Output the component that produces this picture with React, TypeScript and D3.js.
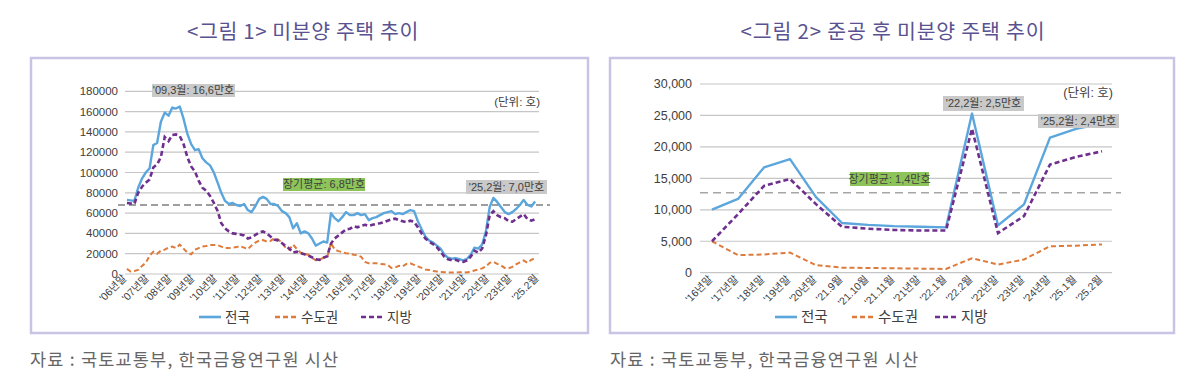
import React from "react";
import * as d3 from "d3";

// ---------- Chart 1 data (bimonthly, Dec 2006 .. Feb 2025) ----------
const nation1 = [
  73000, 72500, 72000, 85000, 94000, 100000, 104000, 127000, 129000, 150000,
  159000, 156000, 164000, 163000, 165000, 153000, 138000, 128000, 122000, 123000,
  114000, 110000, 107000, 100000, 90000, 80000, 72000, 69000, 70000, 68000,
  67000, 69000, 63000, 61000, 67000, 74000, 76000, 74000, 69000, 69000,
  67000, 62000, 60000, 56000, 45000, 50000, 40000, 42000, 40000, 35000,
  28000, 30000, 32000, 31000, 60000, 55000, 52000, 56000, 61000, 58000,
  58000, 60000, 58000, 59000, 53000, 55000, 56000, 58000, 60000, 61000,
  62000, 59000, 60000, 59000, 61000, 63000, 62000, 52000, 44000, 37000,
  33000, 31000, 28000, 25000, 19000, 16000, 15000, 15500, 14500, 13500,
  15000, 19000, 26000, 25000, 29000, 42000, 66000, 75000, 71000, 66000,
  61000, 59000, 61000, 64000, 68000, 73000, 68000, 66500, 71500, 70000,
];
const metro1 = [
  5000, 2500, 3000, 4000, 8000, 11000, 18000, 22000, 20000, 23000,
  24000, 26000, 27000, 25500, 29000, 25000, 21000, 19500, 24000, 25500,
  27000, 27500, 28500, 28500, 28500, 27000, 25500, 25500, 26000, 26500,
  27500, 26000, 24500, 28000, 31000, 33000, 33500, 32000, 32500, 35500,
  34000, 31000, 26000, 24000, 29000, 24500, 21000, 19500, 19000, 16000,
  13500, 14000, 16000, 16500, 30500, 24000, 22500, 21500, 20500, 20000,
  19000, 18500, 17000, 12000, 10500, 10500, 10500, 10000, 9500, 9000,
  6000, 6500, 8000, 7500, 10000, 10500, 9000, 7500, 6000, 4500,
  4000, 3000, 2500, 2000, 1800, 1500, 1500, 1500, 1800, 1800,
  1500, 2500, 3500, 4500, 5500, 7500, 11000, 12000, 10000, 8500,
  6000, 5700, 7000, 9500, 11500, 13300, 11000, 14000, 15500, 18500,
];
const local1 = [
  70000, 69500, 69000, 80000, 86000, 90000, 93000, 105000, 108000, 115000,
  135000, 131000, 137000, 137500, 136000, 128000, 115000, 106000, 101000, 92000,
  85000, 82000, 77000, 70000, 62000, 50000, 45000, 42000, 40000, 39500,
  39000, 38000, 35000, 36000, 38500, 41000, 42000, 40000, 37000, 34000,
  33000, 30500, 27500, 25000, 21000, 22000, 20500, 19500, 18000, 16500,
  14500, 14000, 16000, 17500, 30000, 35000, 38000, 41000, 44000, 44500,
  47000, 46000, 47500, 48500, 47500, 48500, 49500, 50000, 51000, 52500,
  53800, 54500, 53000, 52000, 51000, 52500, 51500, 46000, 40000, 35000,
  32000, 29500, 26500, 22000, 17000, 14500, 13500, 14000, 12500, 12000,
  13500, 17000, 23000, 21000, 25000, 38000, 58000, 62000, 58000, 56000,
  55000, 52000, 51500, 54000, 56500, 59000, 54000, 52500, 54000, 53000,
];
const yTicks1 = [0, 20000, 40000, 60000, 80000, 100000, 120000, 140000, 160000, 180000];
const xTickYears1 = [2006, 2007, 2008, 2009, 2010, 2011, 2012, 2013, 2014, 2015, 2016, 2017, 2018, 2019, 2020, 2021, 2022, 2023];
const lastTickLabel1 = "'25.2월";
const avg1 = 68000;

// ---------- Chart 2 data ----------
const categories2 = [
  "'16년말", "'17년말", "'18년말", "'19년말", "'20년말", "'21.9월", "'21.10월", "'21.11월",
  "'21년말", "'22.1월", "'22.2월", "'22년말", "'23년말", "'24년말", "'25.1월", "'25.2월",
];
const nation2 = [10011, 11720, 16738, 18065, 12006, 7900, 7600, 7400, 7300, 7200, 25300, 7518, 10857, 21480, 22872, 23722];
const metro2 = [5000, 2800, 2900, 3200, 1200, 800, 750, 700, 650, 600, 2300, 1300, 2100, 4200, 4300, 4500];
const local2 = [5000, 9300, 13800, 14900, 10900, 7300, 7000, 6800, 6700, 6700, 22900, 6300, 9000, 17200, 18400, 19300];
const yTicks2 = [0, 5000, 10000, 15000, 20000, 25000, 30000];
const avg2 = 12700;

const seriesNames = ["전국", "수도권", "지방"];
const C_BLUE = "#5ba6dc";
const C_ORANGE = "#de7a3a";
const C_PURPLE = "#6e2f8e";
const GRID = "#c6c6c6";
const NUM_FONT = "'Liberation Sans Narrow', 'Liberation Sans', 'Noto Sans CJK KR', sans-serif";
const KR_FONT = "'Noto Sans CJK KR', sans-serif";

function Box({ x, y, w, h, fill, text, size = 11 }: any) {
  return (
    <g>
      <rect x={x} y={y} width={w} height={h} fill={fill} />
      <text x={x + w / 2} y={y + h / 2} dy="0.36em" textAnchor="middle" fontSize={size} fill="#404040" fontFamily={NUM_FONT}>
        {text}
      </text>
    </g>
  );
}

function Legend({ y, items, size }: any) {
  return (
    <g fontFamily={KR_FONT} fontSize={size} fill="#404040">
      {items.map((it: any, i: number) => (
        <g key={i}>
          <line x1={it.lx} x2={it.lx + 22} y1={y} y2={y} stroke={it.color} strokeWidth={2.6} strokeDasharray={it.dash} />
          <text x={it.lx + 26} y={y} dy="0.35em">{it.name}</text>
        </g>
      ))}
    </g>
  );
}

function Chart1() {
  const start = new Date(2006, 11, 1);
  const end = new Date(2025, 1, 1);
  const dates = d3.timeMonth.every(2)!.range(start, d3.timeMonth.offset(end, 1));
  const x = d3.scaleTime().domain([start, end]).range([125, 537]);
  const y = d3.scaleLinear().domain([0, 180000]).range([274, 91.3]);
  const line = d3.line<number>().x((_, i) => x(dates[i])).y((d) => y(d));
  const ticks = xTickYears1.map((yr) => ({ d: new Date(yr, 11, 1), t: `'${String(yr).slice(2)}년말` }));
  ticks.push({ d: end, t: lastTickLabel1 });
  return (
    <g>
      {yTicks1.map((t) => (
        <g key={t}>
          <line x1={125} x2={539} y1={y(t)} y2={y(t)} stroke={GRID} strokeWidth={1.2} />
          <text x={118} y={y(t)} dy="0.35em" textAnchor="end" fontSize={11.5} fill="#404040" fontFamily={NUM_FONT}>{t}</text>
        </g>
      ))}
      {ticks.map((tk, i) => (
        <text key={i} transform={`translate(${x(tk.d) + 2},${279}) rotate(-45)`} textAnchor="end" fontSize={10.5} fill="#404040" fontFamily={NUM_FONT}>{tk.t}</text>
      ))}
      <line x1={118} x2={550} y1={y(avg1)} y2={y(avg1)} stroke="#7f7f7f" strokeWidth={1.4} strokeDasharray="7,4" />
      <path d={line(nation1) || ""} fill="none" stroke={C_BLUE} strokeWidth={2.4} strokeLinejoin="round" />
      <path d={line(metro1) || ""} fill="none" stroke={C_ORANGE} strokeWidth={2} strokeDasharray="5,3" />
      <path d={line(local1) || ""} fill="none" stroke={C_PURPLE} strokeWidth={2.6} strokeDasharray="5,3" />
      <Box x={152} y={84} w={83} h={13} fill="#c9c9c9" text="'09,3월: 16,6만호" />
      <Box x={283} y={178} w={82} h={13} fill="#8dc45a" text="장기평균: 6,8만호" />
      <Box x={466} y={180} w={81} h={14} fill="#c9c9c9" text="'25,2월: 7,0만호" />
      <text x={540} y={102} dy="0.35em" textAnchor="end" fontSize={11.5} fill="#404040" fontFamily={NUM_FONT}>(단위: 호)</text>
      <Legend y={317} size={13.5} items={[
        { lx: 199, color: C_BLUE, dash: null, name: seriesNames[0] },
        { lx: 275, color: C_ORANGE, dash: "5,3", name: seriesNames[1] },
        { lx: 361, color: C_PURPLE, dash: "5,3", name: seriesNames[2] },
      ]} />
    </g>
  );
}

function Chart2() {
  const x = d3.scalePoint<string>().domain(categories2).range([712, 1102]);
  const y = d3.scaleLinear().domain([0, 30000]).range([272.7, 84]);
  const line = d3.line<number>().x((_, i) => x(categories2[i])!).y((d) => y(d));
  const fmt = d3.format(",");
  return (
    <g>
      {yTicks2.map((t) => (
        <g key={t}>
          <line x1={700} x2={1112} y1={y(t)} y2={y(t)} stroke={GRID} strokeWidth={1.2} />
          <text x={692} y={y(t)} dy="0.35em" textAnchor="end" fontSize={12.5} fill="#404040" fontFamily={NUM_FONT}>{fmt(t)}</text>
        </g>
      ))}
      {categories2.map((c) => (
        <text key={c} transform={`translate(${x(c)! + 1},${280}) rotate(-45)`} textAnchor="end" fontSize={10.5} fill="#404040" fontFamily={NUM_FONT}>{c}</text>
      ))}
      <line x1={700} x2={1121} y1={y(avg2)} y2={y(avg2)} stroke="#a6a6a6" strokeWidth={1.6} strokeDasharray="8,5" />
      <path d={line(nation2) || ""} fill="none" stroke={C_BLUE} strokeWidth={2.4} strokeLinejoin="round" />
      <path d={line(metro2) || ""} fill="none" stroke={C_ORANGE} strokeWidth={2} strokeDasharray="5,3" />
      <path d={line(local2) || ""} fill="none" stroke={C_PURPLE} strokeWidth={2.6} strokeDasharray="5,3" />
      <Box x={850} y={172} w={79} h={14} fill="#8dc45a" text="장기평균: 1,4만호" />
      <Box x={943} y={96} w={81} h={15} fill="#c9c9c9" text="'22,2월: 2,5만호" />
      <Box x={1038} y={114} w={81} h={14} fill="#c9c9c9" text="'25,2월: 2,4만호" />
      <text x={1113} y={93} dy="0.35em" textAnchor="end" fontSize={12.5} fill="#404040" fontFamily={NUM_FONT}>(단위: 호)</text>
      <Legend y={317} size={14.5} items={[
        { lx: 775, color: C_BLUE, dash: null, name: seriesNames[0] },
        { lx: 852, color: C_ORANGE, dash: "5,3", name: seriesNames[1] },
        { lx: 935, color: C_PURPLE, dash: "5,3", name: seriesNames[2] },
      ]} />
    </g>
  );
}

export default function App() {
  return (
    <div style={{ position: "absolute", left: 0, top: 0 }}>
      <svg width={1200} height={390} style={{ display: "block", background: "#fff" }}>
        <rect x={31} y={58} width={557} height={275} fill="none" stroke="#c9c3e4" strokeWidth={2.5} />
        <rect x={610} y={58} width={564} height={275} fill="none" stroke="#c9c3e4" strokeWidth={2.5} />
        <text x={303} y={39} textAnchor="middle" fontSize={20.5} letterSpacing={0.6} fill="#5a5290" fontFamily={KR_FONT}>&lt;그림 1&gt; 미분양 주택 추이</text>
        <text x={893} y={39} textAnchor="middle" fontSize={20.5} letterSpacing={0.8} fill="#5a5290" fontFamily={KR_FONT}>&lt;그림 2&gt; 준공 후 미분양 주택 추이</text>
        <Chart1 />
        <Chart2 />
        <text x={30} y={366} fontSize={17.5} letterSpacing={1.2} fill="#666666" fontFamily={KR_FONT}>자료 : 국토교통부, 한국금융연구원 시산</text>
        <text x={610} y={366} fontSize={17.5} letterSpacing={1.2} fill="#666666" fontFamily={KR_FONT}>자료 : 국토교통부, 한국금융연구원 시산</text>
      </svg>
    </div>
  );
}
